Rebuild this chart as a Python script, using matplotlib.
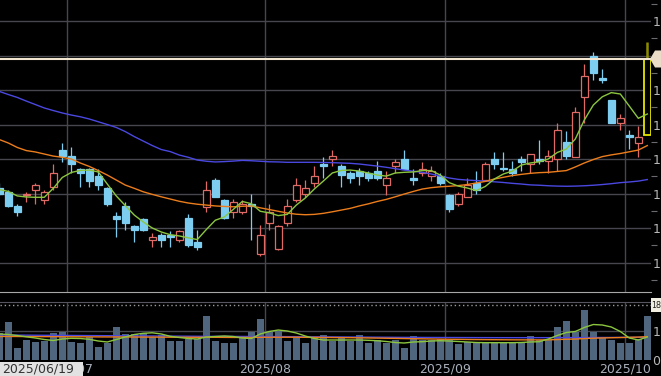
import matplotlib
matplotlib.use("Agg")
import matplotlib.pyplot as plt
from matplotlib.patches import Rectangle, Polygon

# daily candles 2025/06/19 .. 2025/10/03 (first one is cut by the left edge)
opens = [1143, 1141, 1133, 1139, 1142, 1136, 1144, 1165, 1162, 1154, 1154, 1150, 1143, 1127,
         1133, 1121, 1125, 1113, 1116, 1116, 1113, 1126, 1112, 1132, 1148, 1136, 1129, 1129,
         1134, 1105, 1123, 1108, 1123, 1136, 1140, 1146, 1157, 1160, 1156, 1152, 1153, 1152,
         1153, 1145, 1156, 1160, 1149, 1152, 1150, 1150, 1139, 1134, 1138, 1146, 1148, 1160,
         1155, 1154, 1160, 1157, 1160, 1159, 1160, 1170, 1161, 1196, 1220, 1207, 1194, 1181,
         1174, 1169, 1174]
highs = [1146, 1142, 1134, 1141, 1146, 1142, 1157, 1169, 1167, 1155, 1155, 1154, 1144, 1129,
         1135, 1122, 1126, 1117, 1117, 1118, 1119, 1128, 1119, 1147, 1149, 1137, 1137, 1136,
         1140, 1122, 1134, 1122, 1137, 1149, 1148, 1156, 1161, 1165, 1157, 1153, 1155, 1153,
         1159, 1153, 1160, 1165, 1154, 1158, 1156, 1152, 1140, 1141, 1149, 1153, 1158, 1164,
         1164, 1159, 1162, 1163, 1171, 1165, 1181, 1176, 1190, 1215, 1222, 1212, 1194, 1186,
         1177, 1179, 1228]
lows = [1139, 1132, 1127, 1135, 1134, 1134, 1142, 1158, 1152, 1144, 1144, 1142, 1133, 1115,
        1119, 1112, 1118, 1109, 1109, 1109, 1112, 1109, 1107, 1129, 1138, 1125, 1126, 1128,
        1113, 1104, 1119, 1107, 1121, 1135, 1138, 1144, 1149, 1156, 1144, 1146, 1145, 1147,
        1148, 1139, 1152, 1154, 1145, 1150, 1147, 1145, 1129, 1133, 1138, 1140, 1147, 1154,
        1153, 1150, 1153, 1152, 1157, 1152, 1153, 1160, 1161, 1181, 1206, 1204, 1181, 1177,
        1166, 1161, 1174]
closes = [1140, 1133, 1129, 1140, 1145, 1141, 1152, 1162, 1157, 1152, 1147, 1145, 1134, 1125,
          1123, 1119, 1119, 1115, 1113, 1115, 1118, 1110, 1109, 1142, 1138, 1126, 1135, 1134,
          1133, 1116, 1129, 1121, 1133, 1145, 1143, 1150, 1156, 1162, 1151, 1149, 1150, 1149,
          1149, 1149, 1158, 1154, 1148, 1154, 1153, 1146, 1131, 1140, 1145, 1142, 1157, 1157,
          1154, 1152, 1158, 1163, 1159, 1162, 1177, 1162, 1187, 1208, 1210, 1206, 1181, 1184,
          1173, 1173, 1218]
# volume, thousand shares
volume = [941, 1321, 403, 690, 610, 655, 921, 955, 631, 597, 783, 438, 576, 1128, 897, 897,
          921, 783, 862, 655, 655, 714, 714, 1517, 666, 576, 576, 766, 966, 1414, 976, 1017,
          666, 748, 576, 783, 852, 666, 748, 666, 862, 597, 690, 597, 690, 403, 828, 690, 690,
          714, 690, 541, 631, 597, 597, 597, 597, 597, 597, 828, 690, 690, 1128, 1355, 955,
          1724, 955, 803, 690, 597, 576, 714, 1528]

ma_short = [1142.3, 1141.2, 1138.6, 1138.0, 1137.8, 1137.8, 1143.0, 1149.3, 1152.2, 1153.4,
            1153.6, 1152.5, 1145.5, 1138.6, 1133.0, 1127.5, 1123.5, 1120.0, 1117.7, 1116.1,
            1115.4, 1114.3, 1113.3, 1119.1, 1124.5, 1126.4, 1130.8, 1135.4, 1134.1, 1129.7,
            1128.8, 1127.2, 1127.9, 1133.3, 1137.4, 1142.6, 1147.2, 1151.9, 1153.4, 1153.6,
            1153.0, 1151.9, 1150.7, 1150.1, 1151.9, 1152.3, 1152.5, 1153.3, 1153.3, 1150.7,
            1146.3, 1144.3, 1143.2, 1141.7, 1144.1, 1148.4, 1151.3, 1153.0, 1156.5, 1157.7,
            1158.4, 1160.0, 1163.8, 1165.8, 1171.6, 1182.6, 1191.3, 1196.1, 1198.5, 1197.7,
            1190.7, 1183.6, 1186.1]
ma_mid = [1171.3, 1169.3, 1166.7, 1164.9, 1164.1, 1162.9, 1161.7, 1161.0, 1160.0, 1157.7,
          1155.7, 1153.3, 1150.7, 1147.8, 1144.9, 1143.0, 1141.0, 1139.5, 1138.1, 1136.8,
          1135.5, 1134.5, 1133.8, 1133.3, 1132.8, 1132.5, 1132.3, 1132.6, 1132.8, 1131.7,
          1130.7, 1129.7, 1128.7, 1128.0, 1127.7, 1127.9, 1128.5, 1129.4, 1130.4, 1131.4,
          1132.8, 1134.0, 1135.4, 1136.6, 1138.1, 1139.7, 1141.2, 1142.6, 1143.4, 1143.9,
          1144.2, 1144.6, 1145.2, 1146.1, 1147.0, 1148.4, 1149.4, 1150.4, 1151.1, 1151.7,
          1152.1, 1152.3, 1152.8, 1153.3, 1155.4, 1157.7, 1159.7, 1161.4, 1162.4, 1163.2,
          1164.2, 1165.2, 1167.8]
ma_long = [1199.2, 1197.4, 1195.7, 1193.6, 1191.6, 1189.6, 1188.1, 1186.7, 1185.5, 1184.5,
           1183.2, 1181.6, 1180.0, 1178.3, 1175.9, 1173.0, 1170.4, 1167.8, 1165.5, 1164.3,
           1162.3, 1161.0, 1159.4, 1158.7, 1158.3, 1158.5, 1158.8, 1159.2, 1159.0, 1158.7,
           1158.4, 1158.3, 1158.1, 1158.1, 1158.1, 1158.1, 1158.0, 1157.9, 1157.7, 1157.5,
           1157.1, 1156.5, 1155.9, 1155.2, 1154.4, 1153.6, 1152.9, 1152.3, 1151.3, 1150.1,
           1149.0, 1148.2, 1147.8, 1147.5, 1147.2, 1146.8, 1146.4, 1145.9, 1145.5, 1145.0,
           1144.8, 1144.5, 1144.3, 1144.2, 1144.3, 1144.5, 1144.8, 1145.2, 1145.7, 1146.3,
           1146.7, 1147.2, 1148.1]

vol_ma_short = [897, 879, 845, 800, 759, 707, 672, 724, 748, 741, 714, 655, 621, 707, 793, 879,
                921, 938, 897, 817, 776, 741, 724, 793, 810, 828, 810, 759, 741, 897, 983, 1034,
                1000, 931, 828, 741, 690, 690, 690, 690, 690, 679, 665, 638, 603, 586, 621, 631,
                655, 665, 655, 638, 621, 603, 597, 597, 597, 597, 603, 621, 631, 724, 845, 948,
                983, 1121, 1224, 1207, 1138, 983, 759, 690, 793]
vol_ma_mid = [810, 812, 810, 808, 806, 805, 805, 803, 800, 800, 798, 796, 795, 795, 793, 792,
              790, 790, 788, 786, 785, 784, 782, 785, 783, 780, 778, 777, 778, 782, 785, 786,
              785, 784, 782, 780, 778, 775, 772, 770, 765, 760, 755, 750, 745, 740, 735, 730,
              725, 720, 715, 712, 708, 705, 702, 700, 698, 696, 695, 694, 694, 695, 705, 715,
              722, 740, 752, 760, 768, 775, 782, 790, 805]
vol_ma_long = [862, 860, 858, 856, 854, 852, 850, 848, 846, 844, 842, 840, 838, 836, 834, 832,
               830, 828, 826, 824, 822, 820, 818, 816, 815, 814, 813, 812, 811, 810, 809, 808,
               806, 804, 802, 800, 798, 796, 794, 792, 790, 788, 786, 784, 782, 780, 779, 778,
               777, 776, 775, 774, 773, 772, 771, 770, 770, 770, 770, 770, 770, 771, 772, 773,
               774, 775, 776, 777, 778, 779, 780, 781, 782]

month_pos = [6.5, 28.5, 48.5, 68.5]
month_labels = ['2025/07', '2025/08', '2025/09', '2025/10']
first_date = '2025/06/19'
price_ticks = [1100, 1120, 1140, 1160, 1180, 1200, 1220, 1240]
# the right-hand scale is cut by the edge of the picture: only the first digit shows
price_tick_labels = ['1', '1', '1', '1', '1', '1', '1', '1']
vol_ticks = [0, 1000]
vol_tick_labels = ['0', '1']
last_price = 1218
vol_marker = 1890
vol_marker_label = '18'

BG = 'black'
GRID = '#46464e'
UP = '#df6a66'
DOWN = '#7dcdf0'
C_SHORT = '#8cc63f'
C_MID = '#ec7d1c'
C_LONG = '#4a48e0'

W, H = 661, 376
fig = plt.figure(figsize=(W / 100, H / 100), dpi=100, facecolor=BG)
ax = fig.add_axes([0, 1 - 292 / H, 651 / W, 292 / H], facecolor=BG)
axv = fig.add_axes([0, 16 / H, 651 / W, 58 / H], facecolor=BG)

xs = list(range(-1, len(opens) - 1))
last = xs[-1]

# price panel
for x, o, h, l, c in zip(xs, opens, highs, lows, closes):
    if x == last:
        ax.vlines(x, max(o, c), h, color='#8c8c00', lw=1.8, zorder=3)
        ax.bar(x, c - o, bottom=o, width=0.78, facecolor=BG, edgecolor='#e6e600',
               linewidth=1.3, zorder=4)
        continue
    col = UP if c > o else DOWN
    ax.vlines(x, l, h, color=col, lw=0.9, zorder=3)
    hgt = max(abs(c - o), 0.6)
    face = BG if c > o else DOWN
    ax.bar(x, hgt, bottom=min(o, c), width=0.78, facecolor=face, edgecolor=col,
           linewidth=0.9, zorder=4)

ax.plot(xs, ma_long, color=C_LONG, lw=1.0, zorder=5)
ax.plot(xs, ma_mid, color=C_MID, lw=1.0, zorder=5)
ax.plot(xs, ma_short, color=C_SHORT, lw=1.0, zorder=5)
ax.axhline(last_price, color='#f2e6d0', lw=1.5, zorder=6)

ax.set_xlim(-0.92, 71.41)
ax.set_ylim(1082.9, 1252.2)
ax.set_yticks(price_ticks, price_tick_labels)
ax.set_yticks([p + 10 for p in price_ticks] + [price_ticks[0] - 10], minor=True)
ax.yaxis.tick_right()
ax.tick_params(axis='y', which='major', length=0, pad=1, labelsize=9, labelcolor='#b8b8b8')
ax.tick_params(axis='y', which='minor', length=4, width=0.8, color='#6a6a70')
ax.tick_params(axis='x', bottom=False, labelbottom=False)
ax.grid(axis='y', color=GRID, lw=1)
for p in month_pos:
    ax.axvline(p, color=GRID, lw=1)
for s in ['top', 'left', 'right']:
    ax.spines[s].set_visible(False)
ax.spines['bottom'].set_color('#a8a8a8')

# volume panel
axv.bar(xs, volume, width=0.78, color='#50657e', zorder=2)
axv.plot(xs, vol_ma_long, color=C_LONG, lw=1.0, zorder=3)
axv.plot(xs, vol_ma_mid, color=C_MID, lw=1.0, zorder=3)
axv.plot(xs, vol_ma_short, color=C_SHORT, lw=1.0, zorder=3)
axv.axhline(1000, color=GRID, lw=1, zorder=1)
axv.axhline(vol_marker, color='#9a9a9a', lw=1, ls=(0, (1, 2)), zorder=1)
for p in month_pos:
    axv.axvline(p, color=GRID, lw=1, zorder=1)
axv.set_xlim(-0.92, 71.41)
axv.set_ylim(0, 2000)
axv.yaxis.tick_right()
axv.set_yticks(vol_ticks, vol_tick_labels)
axv.tick_params(axis='y', length=0, pad=1, labelsize=9, labelcolor='#b8b8b8')
axv.set_xticks(month_pos, month_labels)
axv.tick_params(axis='x', length=0, pad=2, labelsize=9, labelcolor='#a8b0bc')
for s in ['bottom', 'left', 'right']:
    axv.spines[s].set_visible(False)
axv.spines['top'].set_color('#55555e')

# first-date box over the date axis
fig.patches.append(Rectangle((0, 0), 83 / W, 14 / H, transform=fig.transFigure,
                             facecolor='#e2e2e2', edgecolor='none', zorder=5))
fig.text(2 / W, 7 / H, first_date, fontsize=9, color='#333333', va='center', zorder=6)

# current price tag at the right edge
y_tag = ax.transData.transform((0, last_price))[1]
tag = [(650, y_tag), (655, y_tag + 8.5), (661, y_tag + 8.5), (661, y_tag - 8.5), (655, y_tag - 8.5)]
fig.patches.append(Polygon([(px / W, py / H) for px, py in tag], closed=True,
                           transform=fig.transFigure, facecolor='#eadcc6',
                           edgecolor='none', zorder=7))

# volume marker tag
y_vm = axv.transData.transform((0, vol_marker))[1]
fig.patches.append(Rectangle((651 / W, (y_vm - 7) / H), 10 / W, 14 / H, transform=fig.transFigure,
                             facecolor='#f2eee2', edgecolor='none', zorder=7))
fig.text(651 / W, y_vm / H, vol_marker_label, fontsize=5.8, color='#222222', va='center',
         zorder=8)

fig.savefig('out.png', dpi=100, facecolor=BG)
